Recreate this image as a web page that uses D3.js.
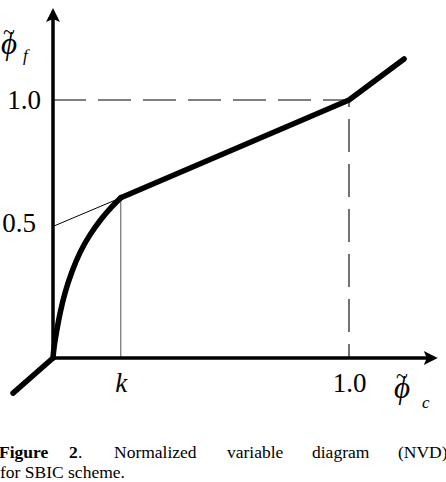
<!DOCTYPE html>
<html>
<head>
<meta charset="utf-8">
<script src="https://cdn.jsdelivr.net/npm/d3@7"></script>
<style>
  html, body { margin: 0; padding: 0; background: #fff; }
  svg { display: block; }
  svg text { font-family: "Liberation Serif", "Times New Roman", Times, serif; fill: #000; }
</style>
</head>
<body>
<svg id="chart" width="446" height="482"></svg>
<script>
// ---- data ----
const kValue = 0.229;
const curveX = [0, 0.003, 0.010, 0.024, 0.041, 0.063, 0.091, 0.125, 0.165, 0.198, 0.229];
const curveY = [0, 0.040, 0.089, 0.179, 0.257, 0.334, 0.412, 0.480, 0.543, 0.586, 0.621];
const upperX = [0.229, 1.0, 1.186];
const upperY = [0.621, 1.0, 1.159];
const lowerX = [-0.135, 0];
const lowerY = [-0.136, 0];
const tangentX = [0, 0.229];
const tangentY = [0.51, 0.621];
const xTickValues = [kValue, 1.0];
const xTickLabels = ["k", "1.0"];
const yTickValues = [0.5, 1.0];
const yTickLabels = ["0.5", "1.0"];
const captionLine1 = ["Figure", "2", ".", "Normalized", "variable", "diagram", "(NVD)"];
const captionLine2 = "for SBIC scheme.";

const svg = d3.select("#chart");
const x = d3.scaleLinear().domain([0, 1]).range([53, 349]);
const y = d3.scaleLinear().domain([0, 1]).range([358, 100]);
const xMax = 1.30, yMax = 1.357;

const line = d3.line().x(d => x(d[0])).y(d => y(d[1]));
const zip = (a, b) => a.map((v, i) => [v, b[i]]);

// dashed guide lines at 1.0
svg.append("path")
  .attr("d", line([[0, 1], [1, 1], [1, 0]]))
  .attr("fill", "none").attr("stroke", "#000").attr("stroke-width", 1.1)
  .attr("stroke-dasharray", "33,12");

// thin vertical at k
svg.append("path")
  .attr("d", line([[kValue, 0], [kValue, upperY[0]]]))
  .attr("fill", "none").attr("stroke", "#555").attr("stroke-width", 1);

// thin line from the axis to the k point
svg.append("path")
  .attr("d", line(zip(tangentX, tangentY)))
  .attr("fill", "none").attr("stroke", "#000").attr("stroke-width", 1);

// axes (thick lines with arrow heads)
svg.append("line")
  .attr("x1", x(0)).attr("y1", y(0)).attr("x2", x(0)).attr("y2", y(yMax) + 10)
  .attr("stroke", "#000").attr("stroke-width", 3.5);
svg.append("line")
  .attr("x1", x(0)).attr("y1", y(0)).attr("x2", x(xMax) - 10).attr("y2", y(0))
  .attr("stroke", "#000").attr("stroke-width", 3.5);
const yt = [x(0), y(yMax)];
svg.append("path")
  .attr("d", `M${yt[0]},${yt[1]} L${yt[0] + 7},${yt[1] + 14} L${yt[0]},${yt[1] + 11} L${yt[0] - 7},${yt[1] + 14} Z`)
  .attr("fill", "#000");
const xt = [x(xMax), y(0)];
svg.append("path")
  .attr("d", `M${xt[0]},${xt[1]} L${xt[0] - 14},${xt[1] - 7} L${xt[0] - 11},${xt[1]} L${xt[0] - 14},${xt[1] + 7} Z`)
  .attr("fill", "#000");

// thick NVD characteristic
const thick = g => g.attr("fill", "none").attr("stroke", "#000")
  .attr("stroke-width", 5.5).attr("stroke-linecap", "round").attr("stroke-linejoin", "round");
svg.append("path").attr("d", line(zip(lowerX, lowerY))).call(thick);
svg.append("path")
  .attr("d", d3.line().x(d => x(d[0])).y(d => y(d[1])).curve(d3.curveBasis)(zip(curveX, curveY)))
  .call(thick);
svg.append("path").attr("d", line(zip(upperX, upperY))).call(thick);

// x tick labels via d3 axis
const xAxis = svg.append("g").attr("transform", `translate(0,${y(0)})`)
  .call(d3.axisBottom(x).tickValues(xTickValues).tickSize(0)
    .tickFormat((d, i) => xTickLabels[i]));
xAxis.attr("font-family", null);
xAxis.select(".domain").remove();
xAxis.selectAll("text")
  .attr("y", 0).attr("dy", null)
  .attr("transform", "translate(0,34)")
  .attr("font-size", 27)
  .attr("font-style", (d, i) => i === 0 ? "italic" : "normal");

// y tick labels via d3 axis
const yAxis = svg.append("g").attr("transform", `translate(${x(0)},0)`)
  .call(d3.axisLeft(y).tickValues(yTickValues).tickSize(0)
    .tickFormat((d, i) => yTickLabels[i]));
yAxis.attr("font-family", null);
yAxis.select(".domain").remove();
yAxis.selectAll("text")
  .attr("x", (d, i) => i === 0 ? -17 : -12)
  .attr("dy", (d, i) => i === 0 ? "0.1em" : "0.3em")
  .attr("font-size", 27);

// axis titles: phi with tilde
function phiLabel(px, py, sub, subDx, subDy) {
  const g = svg.append("g").attr("transform", `translate(${px},${py})`);
  g.append("text").attr("x", 0).attr("y", 0)
    .attr("font-size", 31).attr("font-style", "italic").text("ϕ");
  g.append("text").attr("x", 2).attr("y", -15)
    .attr("font-size", 22).text("~");
  g.append("text").attr("x", subDx).attr("y", subDy)
    .attr("font-size", 17).attr("font-style", "italic").text(sub);
}
phiLabel(1, 54, "f", 22, 7);
phiLabel(394, 398, "c", 28, 10);

// caption
const capY1 = 458, capY2 = 478;
const words = [
  {t: captionLine1[0], x: -1, b: true},
  {t: captionLine1[1], x: 69, b: true},
  {t: captionLine1[2], x: 78, b: false},
  {t: captionLine1[3], x: 114, b: false},
  {t: captionLine1[4], x: 227, b: false},
  {t: captionLine1[5], x: 312, b: false},
  {t: captionLine1[6], x: 398, b: false}
];
words.forEach(w => {
  svg.append("text").attr("x", w.x).attr("y", capY1).attr("font-size", 17.5)
    .attr("font-weight", w.b ? "bold" : "normal").text(w.t);
});
svg.append("text").attr("x", 0).attr("y", capY2).attr("font-size", 17.5).text(captionLine2);
</script>
</body>
</html>
